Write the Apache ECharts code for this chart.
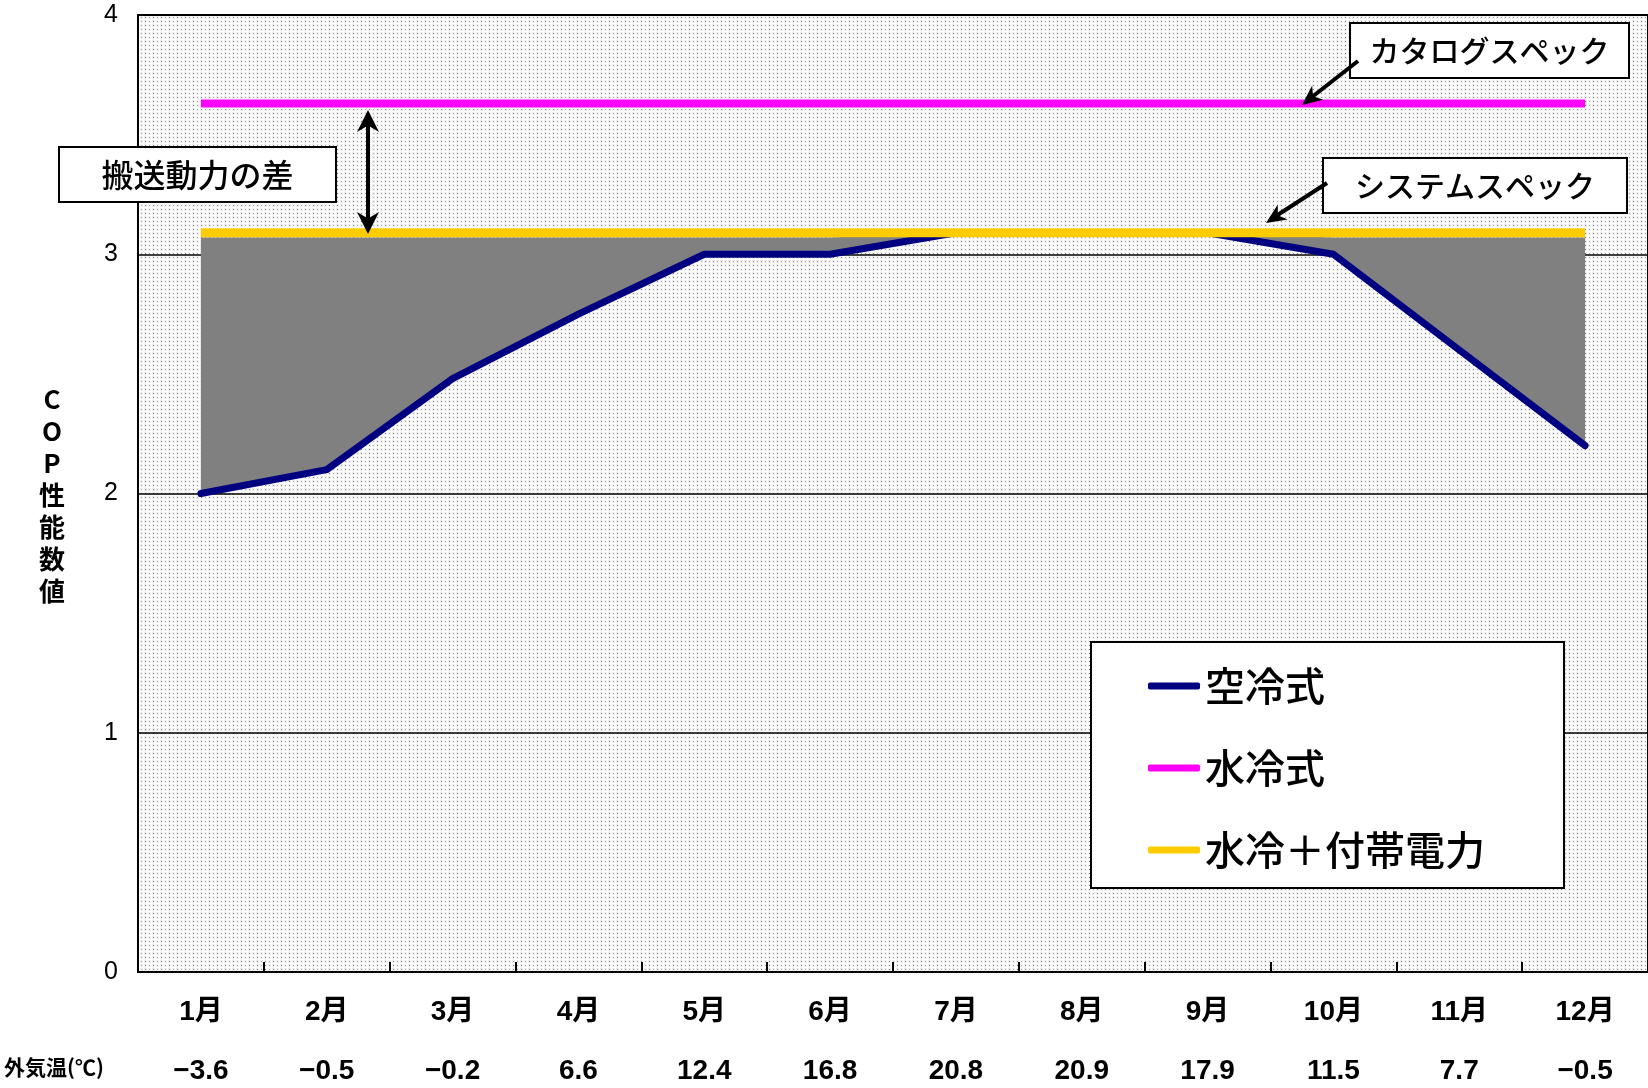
<!DOCTYPE html>
<html>
<head>
<meta charset="utf-8">
<script src="https://cdn.jsdelivr.net/npm/echarts@6/dist/echarts.min.js"></script>
<style>
  html, body { margin: 0; padding: 0; background: #fff; }
  #chart { width: 1648px; height: 1088px; }
</style>
</head>
<body>
<div id="chart"></div>
<script>
// Monthly COP of air-cooled vs water-cooled chillers
const months = ['1月', '2月', '3月', '4月', '5月', '6月', '7月', '8月', '9月', '10月', '11月', '12月'];
const outdoorTemps = ['−3.6', '−0.5', '−0.2', '6.6', '12.4', '16.8', '20.8', '20.9', '17.9', '11.5', '7.7', '−0.5'];
const airCooled = [2.0, 2.1, 2.48, 2.75, 3.0, 3.0, 3.09, 3.09, 3.09, 3.0, 2.6, 2.2];
const waterCooled = [3.63, 3.63, 3.63, 3.63, 3.63, 3.63, 3.63, 3.63, 3.63, 3.63, 3.63, 3.63];
const waterPlusAux = [3.09, 3.09, 3.09, 3.09, 3.09, 3.09, 3.09, 3.09, 3.09, 3.09, 3.09, 3.09];
const yTicks = [0, 1, 2, 3, 4];
// upper edge of the shaded shortfall band below the system spec line
const shortfallTop = 3.07;

const JP = '"Noto Sans CJK JP", "Noto Sans", sans-serif';
const NARROW = '"Liberation Sans Narrow", "Liberation Sans", "Noto Sans CJK JP", sans-serif';

// fine halftone dot texture for the plot background
function dotTile() {
  const c = document.createElement('canvas');
  c.width = 8; c.height = 4;
  const g = c.getContext('2d');
  g.fillStyle = '#ffffff';
  g.fillRect(0, 0, 8, 4);
  g.fillStyle = 'rgba(0,0,0,0.06)';
  g.fillRect(0, 0, 3, 3);
  g.fillRect(4, 0, 3, 3);
  g.fillStyle = 'rgba(0,0,0,0.50)';
  g.fillRect(1, 1, 1, 1);
  g.fillStyle = 'rgba(0,0,0,0.28)';
  g.fillRect(5, 1, 1, 1);
  return c;
}

const bandBase = airCooled;
const bandHeight = airCooled.map(v => Math.max(0, shortfallTop - v));

// notched arrow head pointing at (tx, ty) coming from (fx, fy)
function arrowHead(tx, ty, fx, fy, len, half) {
  const dx = tx - fx, dy = ty - fy;
  const L = Math.hypot(dx, dy);
  const ux = dx / L, uy = dy / L;
  const nx = -uy, ny = ux;
  const bx = tx - ux * len, by = ty - uy * len;
  const mx = tx - ux * len * 0.7, my = ty - uy * len * 0.7;
  return {
    type: 'polygon', z: 120,
    shape: { points: [[tx, ty], [bx + nx * half, by + ny * half], [mx, my], [bx - nx * half, by - ny * half]] },
    style: { fill: '#000' }
  };
}
function arrowShaft(x1, y1, x2, y2) {
  return { type: 'line', z: 120, shape: { x1, y1, x2, y2 }, style: { stroke: '#000', lineWidth: 4 } };
}
function labelBox(x, y, w, h, text, fontSize) {
  return [
    { type: 'rect', z: 110, shape: { x, y, width: w, height: h },
      style: { fill: '#fff', stroke: '#000', lineWidth: 2 } },
    { type: 'text', z: 111, x: x + w / 2, y: y + h / 2,
      style: { text, fill: '#000', font: `500 ${fontSize}px ${JP}`, align: 'center', verticalAlign: 'middle' } }
  ];
}

const chart = echarts.init(document.getElementById('chart'), null, { renderer: 'canvas' });

const option = {
  animation: false,
  backgroundColor: '#fff',
  grid: {
    left: 138, top: 15, width: 1512, height: 957,
    show: true,
    backgroundColor: { image: dotTile(), repeat: 'repeat' },
    borderColor: '#000', borderWidth: 2
  },
  legend: {
    orient: 'vertical',
    left: 1143, top: 661,
    z: 200,
    icon: 'roundRect',
    itemWidth: 52, itemHeight: 7,
    itemGap: 42,
    itemStyle: { borderWidth: 0 },
    textStyle: { fontSize: 40, lineHeight: 40, color: '#000', fontFamily: JP, fontWeight: 500, padding: [0, 0, 0, 0] },
    data: ['空冷式', '水冷式', '水冷＋付帯電力']
  },
  xAxis: {
    type: 'category',
    data: months,
    boundaryGap: true,
    axisLine: { show: true, lineStyle: { color: '#000', width: 2 } },
    axisTick: { show: true, inside: true, length: 10, interval: 0, lineStyle: { color: '#000', width: 2 } },
    splitLine: { show: false },
    axisLabel: {
      interval: 0,
      margin: 11,
      formatter: (v, i) => '{m|' + v + '}\n{t|' + outdoorTemps[i] + '}',
      rich: {
        m: { fontSize: 28, fontWeight: 'bold', fontFamily: NARROW, color: '#000', lineHeight: 58 },
        t: { fontSize: 28, fontWeight: 'bold', fontFamily: NARROW, color: '#000', lineHeight: 60 }
      }
    }
  },
  yAxis: {
    type: 'value',
    min: 0, max: 4, interval: 1,
    axisLine: { show: true, lineStyle: { color: '#000', width: 2 } },
    axisTick: { show: false },
    splitLine: { show: true, lineStyle: { color: '#000', width: 1.5 } },
    axisLabel: {
      margin: 20,
      fontSize: 25,
      color: '#000',
      fontFamily: '"Liberation Sans", Arial, sans-serif',
      formatter: v => (yTicks.includes(v) ? String(v) : '')
    }
  },
  series: [
    {
      name: 'band-base', type: 'line', stack: 'shortfall', data: bandBase,
      symbol: 'none', silent: true, lineStyle: { width: 0, opacity: 0 }, z: 2
    },
    {
      name: 'band', type: 'line', stack: 'shortfall', data: bandHeight,
      symbol: 'none', silent: true, lineStyle: { width: 0, opacity: 0 },
      areaStyle: { color: '#808080', opacity: 1 }, z: 2
    },
    {
      name: '空冷式', type: 'line', data: airCooled, symbol: 'none', z: 3,
      itemStyle: { color: '#000080' },
      lineStyle: { color: '#000080', width: 7, cap: 'round', join: 'round' }
    },
    {
      name: '水冷式', type: 'line', data: waterCooled, symbol: 'none', z: 4,
      itemStyle: { color: '#ff00ff' },
      lineStyle: { color: '#ff00ff', width: 8 }
    },
    {
      name: '水冷＋付帯電力', type: 'line', data: waterPlusAux, symbol: 'none', z: 4,
      itemStyle: { color: '#ffcc00' },
      lineStyle: { color: '#ffcc00', width: 9 }
    }
  ],
  graphic: {
    elements: [
      // legend frame
      { type: 'rect', z: 100, shape: { x: 1091, y: 642, width: 473, height: 246 },
        style: { fill: '#fff', stroke: '#000', lineWidth: 2 } },
      // vertical axis title
      { type: 'text', z: 100, x: 52, y: 495,
        style: { text: 'C\nO\nP\n性\n能\n数\n値', fill: '#000', font: `bold 26px ${JP}`,
                 align: 'center', verticalAlign: 'middle', lineHeight: 32 } },
      // caption for the outdoor temperature row
      { type: 'text', z: 100, x: 4, y: 1067,
        style: { text: '外気温(℃)', fill: '#000', font: `bold 21px ${JP}`, align: 'left', verticalAlign: 'middle' } },
      ...labelBox(59, 147, 277, 55, '搬送動力の差', 32),
      ...labelBox(1350, 23, 279, 55, 'カタログスペック', 30),
      ...labelBox(1323, 158, 304, 55, 'システムスペック', 30),
      // double arrow between catalogue and system spec
      arrowShaft(368, 120, 368, 224),
      arrowHead(368, 110, 368, 160, 22, 11),
      arrowHead(368, 234, 368, 180, 22, 11),
      // pointer arrows
      arrowShaft(1358, 61, 1312, 97),
      arrowHead(1302, 105, 1358, 61, 20, 9),
      arrowShaft(1327, 183, 1276, 216),
      arrowHead(1266, 223, 1327, 183, 20, 9)
    ]
  }
};

chart.setOption(option);
</script>
</body>
</html>
